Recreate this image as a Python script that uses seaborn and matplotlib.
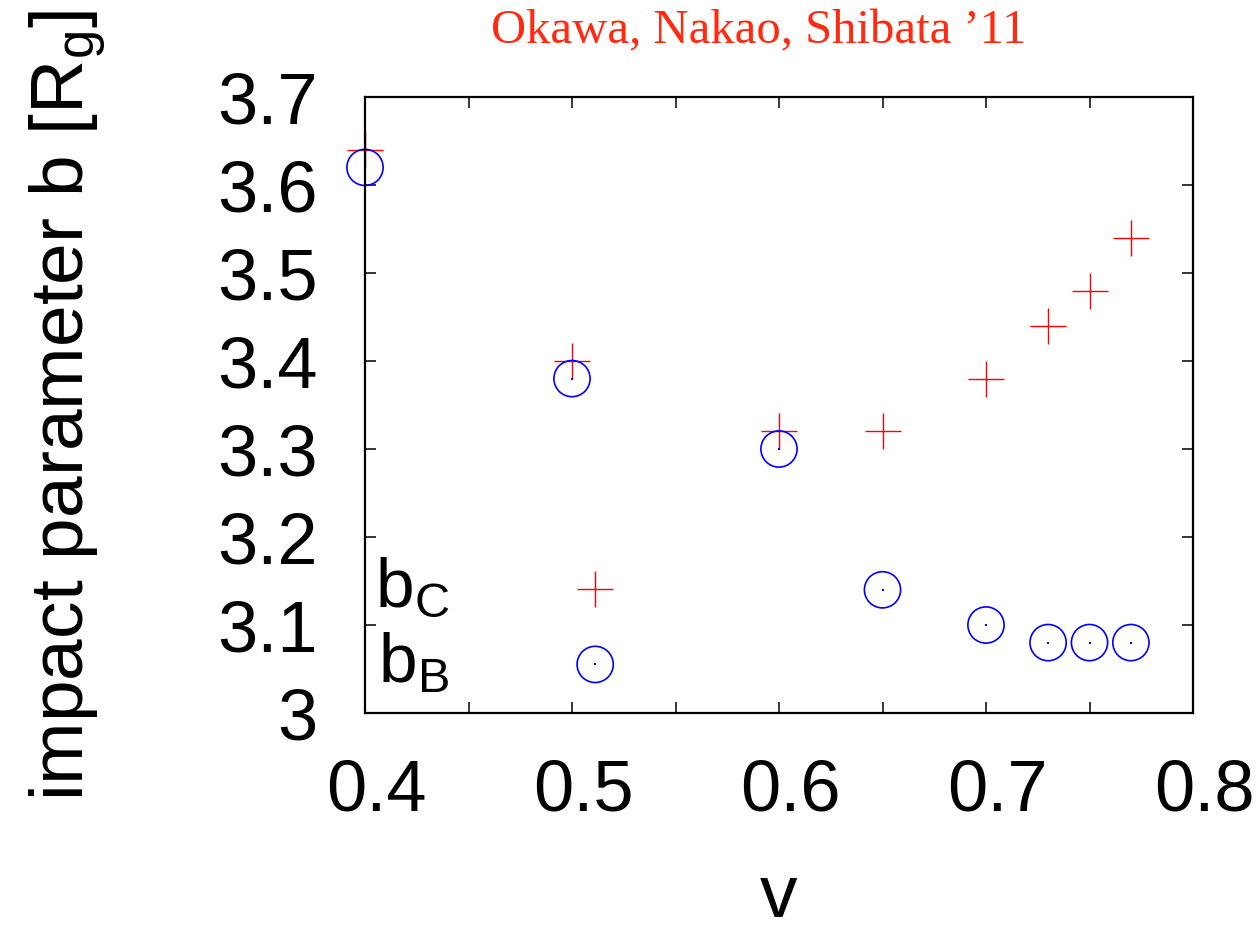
import matplotlib
matplotlib.use("Agg")
import matplotlib.pyplot as plt
import matplotlib.transforms as mtransforms
import seaborn as sns
from matplotlib.legend_handler import HandlerTuple
from matplotlib.ticker import MultipleLocator, FuncFormatter

# impact parameter vs v (Okawa, Nakao, Shibata 2011)
v = [0.4, 0.5, 0.6, 0.65, 0.7, 0.73, 0.75, 0.77]
b_C = [3.64, 3.40, 3.32, 3.32, 3.38, 3.44, 3.48, 3.54]
b_B = [3.62, 3.38, 3.30, 3.14, 3.10, 3.08, 3.08, 3.08]

sns.set_theme(style="ticks")
plt.rcParams["font.family"] = ["Liberation Sans", "DejaVu Sans"]
plt.rcParams["mathtext.default"] = "regular"
plt.rcParams["text.color"] = "black"
plt.rcParams["axes.labelcolor"] = "black"

fig = plt.figure(figsize=(12.6, 9.3), dpi=100)
ax = fig.add_axes([365 / 1260, 1 - 713 / 930, 828 / 1260, 616 / 930])

sns.scatterplot(x=v, y=b_C, ax=ax, marker="+", s=640, color="red",
                linewidth=1.0, clip_on=False, zorder=3)
plus_h = ax.collections[-1]
sns.scatterplot(x=v, y=b_B, ax=ax, marker="o", s=680, facecolors="none",
                edgecolor="blue", linewidth=1.2, clip_on=False, zorder=3)
circ_h = ax.collections[-1]
ax.scatter(v, b_B, s=1.5, color="blue", marker="s", linewidths=0,
           clip_on=False, zorder=3)
dot_h = ax.collections[-1]

ax.set_xlim(0.4, 0.8)
ax.set_ylim(3.0, 3.7)
ax.xaxis.set_major_locator(MultipleLocator(0.1))
ax.xaxis.set_minor_locator(MultipleLocator(0.05))
ax.yaxis.set_major_locator(MultipleLocator(0.1))
ax.xaxis.set_major_formatter(FuncFormatter(lambda x, p: f"{x:g}"))
ax.yaxis.set_major_formatter(FuncFormatter(lambda y, p: f"{y:g}"))

for s in ax.spines.values():
    s.set_linewidth(1.6)
    s.set_color("black")
    s.set_zorder(4)
ax.tick_params(which="both", direction="in", top=True, right=True,
               length=8, width=1.1, colors="black")
ax.tick_params(axis="x", which="major", labelsize=52, pad=33)
ax.tick_params(axis="y", which="major", labelsize=52, pad=34)

# gnuplot puts the x labels a touch right of the ticks
shift = mtransforms.ScaledTranslation(8 / 72, 0, fig.dpi_scale_trans)
for lab in ax.get_xticklabels():
    lab.set_transform(lab.get_transform() + shift)

ax.set_xlabel("v", fontsize=54, labelpad=27)
ax.set_ylabel("impact parameter b [R$_g$]", fontsize=54, labelpad=78)

ax.legend([plus_h, (circ_h, dot_h)], ["b$_C$", "b$_B$"],
          handler_map={tuple: HandlerTuple(ndivide=1, pad=0)},
          loc="lower left", bbox_to_anchor=(-0.005, 0.004), markerfirst=False,
          frameon=False, fontsize=50, handlelength=1.0, handletextpad=1.6,
          labelspacing=0.15, borderaxespad=0.1, borderpad=0.1)

fig.text(759 / 1260, 1 - 31 / 930, "Okawa, Nakao, Shibata ’11", color="#ff2a10",
         fontsize=35, family=["Liberation Serif", "DejaVu Serif"],
         ha="center", va="center")

fig.savefig("out.png", dpi=100, facecolor="white")
